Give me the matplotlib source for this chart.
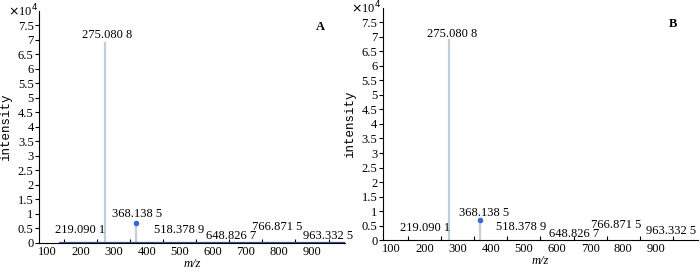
import matplotlib
matplotlib.use('Agg')
from matplotlib import pyplot as plt

# peaks (m/z, intensity in 1e4)
peak_mz = [219.0901, 275.0808, 368.1385, 518.3789, 648.8267, 766.8715, 963.3325]
peak_labels = ['219.090 1', '275.080 8', '368.138 5', '518.378 9',
               '648.826 7', '766.871 5', '963.332 5']
int_a = [0.02, 6.92, 0.68, 0.02, 0.01, 0.02, 0.01]
int_b = [0.02, 6.92, 0.68, 0.02, 0.01, 0.02, 0.01]

# label anchor points (x, y)
lab_x_a = [198, 280, 372, 499, 655, 794, 947]
lab_y_a = [0.44, 7.18, 1.0, 0.44, 0.24, 0.55, 0.24]
lab_x_b = [201, 283, 381, 493, 651, 780, 944]
lab_y_b = [0.41, 7.1, 0.92, 0.44, 0.2, 0.51, 0.31]

xticklabels = [100, 200, 300, 400, 500, 600, 700, 800, 900]
yticks = [0, 0.5, 1, 1.5, 2, 2.5, 3, 3.5, 4, 4.5, 5, 5.5, 6, 6.5, 7, 7.5]

plt.rcParams['font.family'] = ['Liberation Serif', 'DejaVu Serif']
FS = 9
PEAK = '#c3cfd8'


def draw(ax, ints, lab_x, lab_y, tag, xmax, baseline):
    ax.set_xlim(75, xmax)
    ax.set_ylim(0, 8.0)
    if baseline:
        ax.plot([135, 1000], [0, 0], color='#3a4f8a', lw=1.6, zorder=3,
                solid_capstyle='butt')
    ax.vlines(peak_mz, 0, ints, color=PEAK, lw=1.6, zorder=2)
    ax.plot(peak_mz[2], ints[2], 'o', color='#3366dd', ms=3, zorder=4)
    for x, y, t in zip(lab_x, lab_y, peak_labels):
        ax.text(x, y, t, ha='center', va='center', fontsize=FS)

    ax.set_xticks(xticklabels)
    ax.set_xticklabels([str(v) for v in xticklabels], fontsize=FS)
    ax.set_xticks([150 + 100 * i for i in range(9)], minor=True)
    ax.tick_params(axis='x', which='major', length=0, pad=2)
    ax.tick_params(axis='x', which='minor', length=3, direction='in', width=0.8)
    ax.set_yticks(yticks)
    ax.set_yticklabels([('%g' % v) for v in yticks], fontsize=FS)
    ax.tick_params(axis='y', length=3, width=0.8, pad=1)

    for s in ('top', 'right'):
        ax.spines[s].set_visible(False)
    for s in ('left', 'bottom'):
        ax.spines[s].set_linewidth(0.8)

    ax.text(-0.005, 1.0, r'$\times$10$^4$', transform=ax.transAxes,
            ha='right', va='center', fontsize=FS)
    ax.text(0.92, 0.93, tag, transform=ax.transAxes, ha='center', va='center',
            fontsize=9, fontweight='bold')
    ax.set_xlabel('m/z', fontsize=FS, fontstyle='italic', labelpad=0)
    ax.set_ylabel('intensity', fontsize=FS, family='Liberation Mono',
                  labelpad=4)


def main():
    fig = plt.figure(figsize=(7.0, 2.73), dpi=100)
    ax_a = fig.add_axes([0.056, 0.11, 0.437, 0.85])
    ax_b = fig.add_axes([0.547, 0.12, 0.45, 0.852])

    draw(ax_a, int_a, lab_x_a, lab_y_a, 'A', 1000, True)
    draw(ax_b, int_b, lab_x_b, lab_y_b, 'B', 1025, False)

    fig.savefig('out.png', dpi=100)


if __name__ == '__main__':
    main()
